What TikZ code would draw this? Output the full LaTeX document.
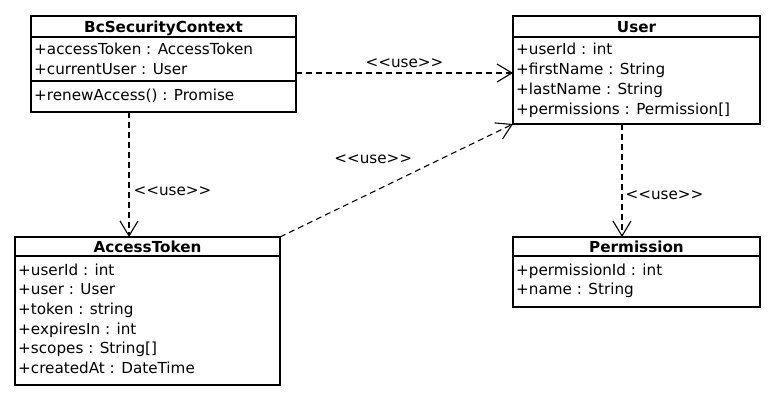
\documentclass[tikz,border=0pt]{standalone}
\usepackage{fontspec}
\setmainfont{DejaVu Sans}[Ligatures=TeXOff]
\usetikzlibrary{arrows.meta,calc}
\tikzset{
  classbox/.style={draw, line width=1.3pt, inner sep=0pt, outer sep=0pt},
  classname/.style={font=\fontsize{15.2}{18}\selectfont\bfseries, anchor=base, inner sep=0pt},
  member/.style={anchor=base west, inner sep=0pt},
  usedep/.style={line width=1.1pt, dash pattern=on 6pt off 4pt, -{Straight Barb[length=15pt,width=18pt]}},
  uselabel/.style={inner sep=0pt}
}

\begin{document}
\begin{tikzpicture}[x=1pt,y=-1pt,font=\fontsize{15.2}{18}\selectfont]
  \useasboundingbox (0,0) rectangle (779,404);
  \node[classbox, minimum width=265pt, minimum height=96pt] (ctx) at (163.5,64) {};
  \node[classbox, minimum width=247pt, minimum height=108pt] (usr) at (636.5,70) {};
  \node[classbox, minimum width=265pt, minimum height=148pt] (tok) at (147.5,311) {};
  \node[classbox, minimum width=247pt, minimum height=70pt] (perm) at (636.5,272) {};
  \draw[line width=1.3pt] ($(ctx.north west)+(0,21)$) -- ($(ctx.north east)+(0,21)$);
  \draw[line width=1.3pt] ($(ctx.north west)+(0,65)$) -- ($(ctx.north east)+(0,65)$);
  \draw[line width=1.3pt] ($(usr.north west)+(0,21)$) -- ($(usr.north east)+(0,21)$);
  \draw[line width=1.3pt] ($(tok.north west)+(0,19)$) -- ($(tok.north east)+(0,19)$);
  \draw[line width=1.3pt] ($(perm.north west)+(0,19)$) -- ($(perm.north east)+(0,19)$);

  \node[classname] (ctx-name) at (163.5,32.5) {BcSecurityContext};
  \foreach \m [count=\i] in {{+accessToken : AccessToken},{+currentUser : User}}
    \node[member] (ctx-\i) at (34,35.3+\i*19.7) {\m};
  \node[member] (ctx-op) at (34,100) {+renewAccess() : Promise};

  \node[classname] (usr-name) at (636.5,32.5) {User};
  \foreach \m [count=\i] in {{+userId : int},{+firstName : String},{+lastName : String},{+permissions : Permission[]}}
    \node[member] (usr-\i) at (516,35.3+\i*19.7) {\m};

  \node[classname] (tok-name) at (147.5,252) {AccessToken};
  \foreach \m [count=\i] in {{+userId : int},{+user : User},{+token : string},{+expiresIn : int},{+scopes : String[]},{+createdAt : DateTime}}
    \node[member] (tok-\i) at (18,255.3+\i*19.7) {\m};

  \node[classname] (perm-name) at (636.5,252) {Permission};
  \foreach \m [count=\i] in {{+permissionId : int},{+name : String}}
    \node[member] (perm-\i) at (516,255.3+\i*19.7) {\m};

  \coordinate (a) at ($(ctx.north east)+(0,57)$);
  \draw[usedep] (a) -- (a -| usr.west) node[uselabel, midway, above=5pt] {<<use>>};
  \coordinate (b) at ($(ctx.south west)+(98,0)$);
  \draw[usedep] (b) -- (b |- tok.north) node[uselabel, pos=.63, right=4pt] {<<use>>};
  \draw[usedep] (tok.north east) -- (usr.south west) node[uselabel, pos=.4, above=28pt] {<<use>>};
  \coordinate (d) at ($(usr.south west)+(109,0)$);
  \draw[usedep] (d) -- (d |- perm.north) node[uselabel, pos=.63, right=3pt] {<<use>>};
\end{tikzpicture}
\end{document}
